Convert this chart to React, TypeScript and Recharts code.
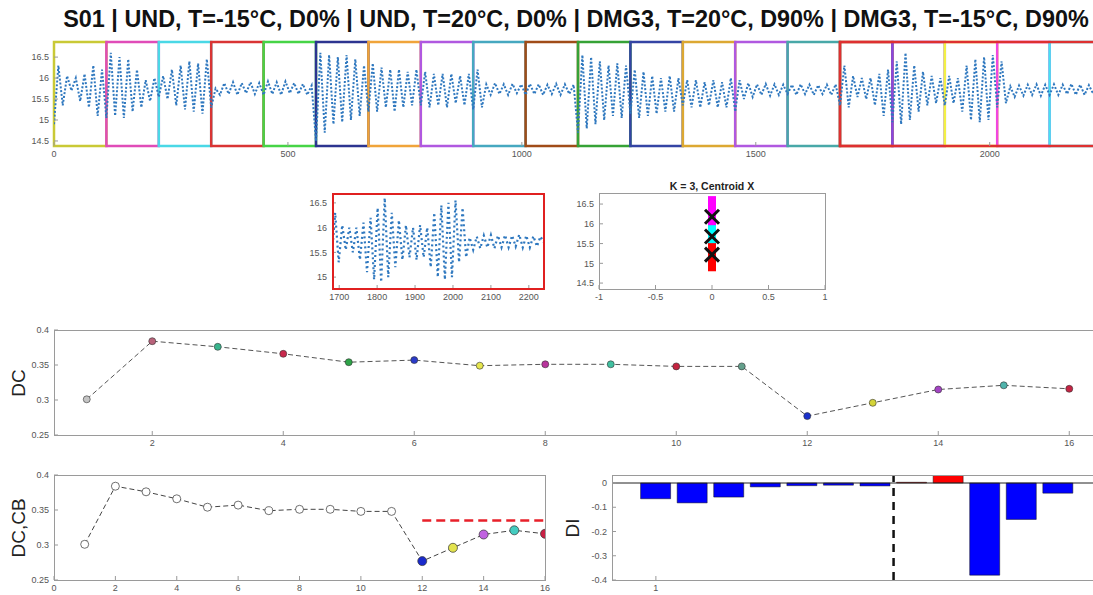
import React from "react";
import {
  LineChart,
  Line,
  XAxis,
  YAxis,
  ReferenceArea,
  ReferenceLine,
  ScatterChart,
  Scatter,
  ComposedChart,
  Bar,
  Cell,
} from "recharts";

const FONT = '"Liberation Sans", Arial, Helvetica, sans-serif';

// sensor signal, one value every 560/60 samples, per test condition
const undCold = [
  14.9, 16.3, 15.35, 16.05, 15.7, 16.0, 15.45, 16.1, 15.3, 16.3, 15.1, 16.2,
  15.05, 16.6, 15.1, 16.5, 15.05, 16.45, 15.2, 16.2, 15.3, 15.95, 15.45, 16.0,
  15.55, 16.05, 15.5, 16.2, 15.35, 16.3, 15.25, 16.4, 15.2, 16.35, 15.15, 16.45,
  15.3, 15.75, 15.6, 15.88, 15.62, 15.9, 15.6, 15.88, 15.64, 15.9, 15.62, 15.88,
  15.6, 15.92, 15.62, 15.9, 15.6, 15.92, 15.64, 15.88, 15.62, 15.86, 15.6, 15.82,
];
const undWarm = [
  14.5, 16.6, 14.7, 16.55, 14.9, 16.5, 14.95, 16.55, 15.0, 16.45, 15.1, 16.3,
  15.2, 16.35, 15.2, 16.25, 15.3, 16.2, 15.2, 16.2, 15.3, 16.15, 15.35, 16.2,
  15.35, 16.15, 15.3, 16.1, 15.35, 16.1, 15.3, 16.1, 15.4, 16.05, 15.35, 16.1,
  15.25, 16.2, 15.3, 15.85, 15.6, 15.88, 15.62, 15.85, 15.6, 15.86, 15.64, 15.85,
  15.6, 15.86, 15.62, 15.85, 15.6, 15.84, 15.62, 15.86, 15.6, 15.85, 15.62, 15.84,
];
const dmgWarm = [
  14.7, 16.55, 14.8, 16.5, 14.9, 16.4, 15.0, 16.3, 15.1, 16.35, 15.05, 16.3,
  15.15, 16.2, 15.05, 16.15, 15.1, 16.05, 15.15, 16.0, 15.2, 16.05, 15.2, 16.0,
  15.35, 15.95, 15.3, 15.95, 15.3, 15.9, 15.35, 15.95, 15.3, 15.9, 15.3, 16.0,
  15.2, 15.95, 15.5, 15.88, 15.55, 15.85, 15.6, 15.86, 15.58, 15.85, 15.6, 15.84,
  15.62, 15.84, 15.6, 15.85, 15.62, 15.84, 15.6, 15.83, 15.62, 15.84, 15.6, 15.85,
];
const dmgCold = [
  15.35, 16.3, 15.3, 16.05, 15.55, 16.0, 15.5, 16.0, 15.35, 16.1, 15.1, 16.2,
  14.95, 16.4, 14.9, 16.6, 15.0, 16.3, 15.2, 16.15, 15.35, 16.05, 15.4, 16.0,
  15.35, 16.05, 15.4, 16.0, 15.2, 16.3, 15.0, 16.45, 14.95, 16.5, 15.0, 16.55,
  15.3, 16.4, 15.4, 15.8, 15.55, 15.82, 15.58, 15.84, 15.6, 15.85, 15.58, 15.84,
  15.6, 15.85, 15.6, 15.84, 15.62, 15.86, 15.6, 15.84, 15.6, 15.83, 15.62, 15.82,
];
const signalEnd = 15.7;
const blockLen = 560;

// window boundaries and their colours
const segStarts = [0, 112, 224, 336, 448, 560, 672, 784, 896, 1008, 1120, 1232, 1344, 1456, 1568, 1680, 1792, 1904, 2016, 2128];
const segColors = [
  "#c9c936", "#e04cb8", "#4ad8e6", "#d93434", "#46d446",
  "#2c3490", "#f0a43a", "#b058e0", "#46a8c0", "#a04c18",
  "#36a236", "#3444a4", "#dca832", "#b058e0", "#48a8a8",
  "#a84418", "#8848e0", "#f2f044", "#f046e0", "#46e2f2",
];

// K-means on the last block
const centroids = [16.18, 15.68, 15.22];
const clusterColors = ["#ff00ff", "#00ffff", "#ff0000"];

// damage coefficient per window
const dcK = [1, 2, 3, 4, 5, 6, 7, 8, 9, 10, 11, 12, 13, 14, 15, 16];
const dcVals = [0.301, 0.384, 0.376, 0.366, 0.354, 0.357, 0.349, 0.351, 0.351, 0.348, 0.348, 0.277, 0.296, 0.315, 0.321, 0.316];
const dcColors = [
  "#c4c4c4", "#b8627a", "#38b48c", "#c8284c", "#2ea448", "#2a3ac8", "#e6e64e", "#b8349c",
  "#40c0a0", "#c42440", "#64a08c", "#1a30cc", "#d4d438", "#a444c4", "#50b4ac", "#c42444",
];
const cbColors = ["#fff", "#fff", "#fff", "#fff", "#fff", "#fff", "#fff", "#fff", "#fff", "#fff", "#fff", "#1a2acc", "#e2e24e", "#c062e0", "#44ccc0", "#c82044"];
const cbStart = 12;
const cbEnd = 16;
const cbLevel = 0.335;

// damage index
const diIdx = [1, 2, 3, 4, 5, 6, 7, 8, 9, 10, 11, 12];
const diVals = [-0.065, -0.082, -0.058, -0.016, -0.011, -0.009, -0.012, 0.003, 0.033, -0.38, -0.15, -0.042];
const diSplit = 7.5;

const signal = [undCold, undWarm, dmgWarm, dmgCold]
  .flatMap((g, gi) => g.map((v, i) => ({ t: gi * blockLen + (i * blockLen) / g.length, v })))
  .concat([{ t: 4 * blockLen, v: signalEnd }]);
const lastBlock = signal.filter((p) => p.t >= 3 * blockLen);
const nearest = (v: number) =>
  centroids.reduce((best, c, i) => (Math.abs(v - c) < Math.abs(v - centroids[best]) ? i : best), 0);
const clusterPts = centroids.map((_, k) =>
  lastBlock.filter((p) => nearest(p.v) === k).map((p) => ({ x: 0, y: p.v }))
);
const centroidPts = centroids.map((c) => ({ x: 0, y: c }));
const dcRows = dcK.map((k, i) => ({ k, dc: dcVals[i] }));
const diRows = diIdx.map((i, n) => ({ i, di: diVals[n] }));

const PL = 50, PT = 10, PR = 10, PB = 24;
const M = { top: PT, right: PR, bottom: 0, left: 0 };
const TOP = { x: 54, y: 42, w: 1048, h: 104 };
const ZOOM = { x: 332, y: 193, w: 212, h: 96 };
const CLU = { x: 599, y: 193, w: 226, h: 96 };
const DC = { x: 54, y: 330, w: 1048, h: 105 };
const CB = { x: 54, y: 475, w: 491, h: 105 };
const DI = { x: 612, y: 475, w: 490, h: 105 };

const tick = { fontSize: 9, fill: "#555", fontFamily: FONT };
const axisCommon = {
  type: "number" as const,
  interval: 0 as const,
  tickSize: -4,
  tickMargin: 9,
  axisLine: false,
  tickLine: { stroke: "#999" },
  tick,
  allowDataOverflow: true,
};

const Place = ({ b, children }: any) => (
  <div style={{ position: "absolute", left: b.x - PL, top: b.y - PT }}>{children}</div>
);
const Frame = ({ b, color = "#9a9a9a", width = 1 }: any) => (
  <div
    style={{
      position: "absolute",
      left: b.x,
      top: b.y,
      width: b.w + 1,
      height: b.h + 1,
      border: `${width}px solid ${color}`,
      boxSizing: "border-box",
      pointerEvents: "none",
    }}
  />
);

const dcDot = (p: any) => (
  <circle key={p.index} cx={p.cx} cy={p.cy} r={3.5} fill={dcColors[p.index]} stroke="#333" strokeWidth={0.6} />
);
const cbDot = (p: any) => (
  <circle key={p.index} cx={p.cx} cy={p.cy} r={p.index >= 11 ? 4.5 : 4} fill={cbColors[p.index]} stroke="#333" strokeWidth={0.7} />
);
const xMark = (p: any) => (
  <g>
    <line x1={p.cx - 7} y1={p.cy - 7} x2={p.cx + 7} y2={p.cy + 7} stroke="#111" strokeWidth={3} />
    <line x1={p.cx - 7} y1={p.cy + 7} x2={p.cx + 7} y2={p.cy - 7} stroke="#111" strokeWidth={3} />
  </g>
);

export default function App() {
  return (
    <div
      style={{
        position: "absolute",
        left: 0,
        top: 0,
        width: 1093,
        height: 595,
        overflow: "hidden",
        background: "#fff",
        fontFamily: FONT,
      }}
    >
      <Place b={TOP}>
        <LineChart width={TOP.w + PL + PR} height={TOP.h + PT + PB} data={signal} margin={M}>
          <XAxis {...axisCommon} dataKey="t" domain={[0, 2240]} ticks={[0, 500, 1000, 1500, 2000]} height={PB} />
          <YAxis {...axisCommon} domain={[14.38, 16.86]} ticks={[14.5, 15, 15.5, 16, 16.5]} width={PL} />
          {segStarts.map((s, i) => (
            <ReferenceArea
              key={i}
              x1={s}
              x2={segStarts[i + 1] ?? 2240}
              y1={14.38}
              y2={16.86}
              fill="none"
              stroke={segColors[i]}
              strokeWidth={2.5}
              ifOverflow="visible"
            />
          ))}
          <ReferenceArea x1={1680} x2={2240} y1={14.38} y2={16.86} fill="none" stroke="#de3030" strokeWidth={2.5} ifOverflow="visible" />
          <Line
            dataKey="v"
            stroke="#2f78bf"
            strokeWidth={2}
            strokeDasharray="2 1.8"
            dot={false}
            isAnimationActive={false}
          />
        </LineChart>
      </Place>

      <Place b={ZOOM}>
        <LineChart width={ZOOM.w + PL + PR} height={ZOOM.h + PT + PB} data={lastBlock} margin={M}>
          <XAxis {...axisCommon} dataKey="t" domain={[1681, 2240]} ticks={[1700, 1800, 1900, 2000, 2100, 2200]} height={PB} />
          <YAxis {...axisCommon} domain={[14.76, 16.7]} ticks={[15, 15.5, 16, 16.5]} width={PL} />
          <Line
            dataKey="v"
            stroke="#2f78bf"
            strokeWidth={2.2}
            strokeDasharray="2 3"
            dot={false}
            isAnimationActive={false}
          />
        </LineChart>
      </Place>
      <Frame b={ZOOM} color="#e02020" width={2} />

      <Place b={CLU}>
        <ScatterChart width={CLU.w + PL + PR} height={CLU.h + PT + PB} margin={M}>
          <XAxis {...axisCommon} dataKey="x" domain={[-1, 1]} ticks={[-1, -0.5, 0, 0.5, 1]} height={PB} />
          <YAxis {...axisCommon} dataKey="y" domain={[14.35, 16.78]} ticks={[14.5, 15, 15.5, 16, 16.5]} width={PL} />
          {clusterPts.map((pts, k) => (
            <Scatter key={k} data={pts} shape="square" fill={clusterColors[k]} isAnimationActive={false} />
          ))}
          <Scatter data={centroidPts} shape={xMark} isAnimationActive={false} />
        </ScatterChart>
      </Place>
      <Frame b={CLU} />

      <Place b={DC}>
        <LineChart width={DC.w + PL + PR} height={DC.h + PT + PB} data={dcRows} margin={M}>
          <XAxis {...axisCommon} dataKey="k" domain={[0.5, 16.5]} ticks={[2, 4, 6, 8, 10, 12, 14, 16]} height={PB} />
          <YAxis {...axisCommon} domain={[0.25, 0.4]} ticks={[0.25, 0.3, 0.35, 0.4]} width={PL} />
          <Line
            dataKey="dc"
            stroke="#555"
            strokeWidth={1}
            strokeDasharray="5 3"
            dot={dcDot}
            isAnimationActive={false}
          />
        </LineChart>
      </Place>
      <Frame b={DC} />

      <Place b={CB}>
        <LineChart width={CB.w + PL + PR} height={CB.h + PT + PB} data={dcRows} margin={M}>
          <XAxis {...axisCommon} dataKey="k" domain={[0, 16]} ticks={[0, 2, 4, 6, 8, 10, 12, 14, 16]} height={PB} />
          <YAxis {...axisCommon} domain={[0.25, 0.4]} ticks={[0.25, 0.3, 0.35, 0.4]} width={PL} />
          <ReferenceLine
            segment={[{ x: cbStart, y: cbLevel }, { x: cbEnd, y: cbLevel }]}
            stroke="#e8202a"
            strokeWidth={2.5}
            strokeDasharray="9 5"
          />
          <Line
            dataKey="dc"
            stroke="#444"
            strokeWidth={1}
            strokeDasharray="5 3"
            dot={cbDot}
            isAnimationActive={false}
          />
        </LineChart>
      </Place>
      <Frame b={CB} />

      <Place b={DI}>
        <ComposedChart width={DI.w + PL + PR} height={DI.h + PT + PB} data={diRows} margin={M}>
          <XAxis {...axisCommon} dataKey="i" domain={[-0.2, 13.2]} ticks={[1]} height={PB} />
          <YAxis {...axisCommon} domain={[-0.4, 0.033]} ticks={[-0.4, -0.3, -0.2, -0.1, 0]} width={PL} />
          <ReferenceLine y={0} stroke="#222" strokeWidth={1} />
          <Bar dataKey="di" barSize={30} stroke="#111" strokeWidth={0.5} isAnimationActive={false}>
            {diRows.map((r, n) => (
              <Cell key={n} fill={r.di > 0 ? "#ff0000" : "#0000ff"} />
            ))}
          </Bar>
          <ReferenceLine x={diSplit} stroke="#111" strokeWidth={2.5} strokeDasharray="8 6" />
        </ComposedChart>
      </Place>
      <Frame b={DI} />

      <svg width={1093} height={595} style={{ position: "absolute", left: 0, top: 0, pointerEvents: "none" }}>
        <text x={576} y={27} textAnchor="middle" fontWeight="bold" fontSize={23.4} fill="#111" fontFamily={FONT}>
          S01 | UND, T=-15°C, D0% | UND, T=20°C, D0% | DMG3, T=20°C, D90% | DMG3, T=-15°C, D90%
        </text>
        <text x={712} y={190} textAnchor="middle" fontWeight="bold" fontSize={10.5} fill="#222" fontFamily={FONT}>
          K = 3, Centroid X
        </text>
        <text transform="translate(25,383) rotate(-90)" textAnchor="middle" fontSize={19} fill="#222" fontFamily={FONT}>
          DC
        </text>
        <text transform="translate(25,528) rotate(-90)" textAnchor="middle" fontSize={19} fill="#222" fontFamily={FONT}>
          DC,CB
        </text>
        <text transform="translate(579,528) rotate(-90)" textAnchor="middle" fontSize={19} fill="#222" fontFamily={FONT}>
          DI
        </text>
      </svg>
    </div>
  );
}
